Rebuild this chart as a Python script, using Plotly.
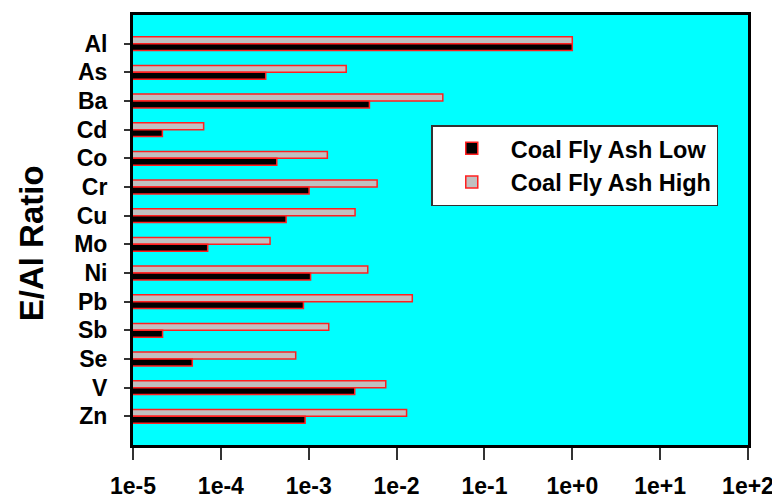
import numpy as np
import plotly.graph_objects as go

elements = ["Al", "As", "Ba", "Cd", "Co", "Cr", "Cu", "Mo", "Ni", "Pb", "Sb", "Se", "V", "Zn"]
low_vals = [1.0, 3.24e-4, 4.91e-3, 2.16e-5, 4.33e-4, 1.01e-3, 5.53e-4, 7.08e-5,
            1.05e-3, 8.71e-4, 2.17e-5, 4.73e-5, 3.34e-3, 9.10e-4]
high_vals = [1.0, 2.67e-3, 3.36e-2, 6.37e-5, 1.63e-3, 6.01e-3, 3.37e-3, 3.63e-4,
             4.70e-3, 1.51e-2, 1.69e-3, 7.11e-4, 7.53e-3, 1.30e-2]
x_tickvals = [1e-5, 1e-4, 1e-3, 1e-2, 1e-1, 1e0, 1e1, 1e2]
x_ticklabels = ["1e-5", "1e-4", "1e-3", "1e-2", "1e-1", "1e+0", "1e+1", "1e+2"]
y_title = "E/Al Ratio"
ref_value = 1.0

FONT = "Liberation Sans, Arial, sans-serif"

fig = go.Figure()
fig.add_trace(go.Bar(
    y=elements, x=high_vals, orientation="h", name="Coal Fly Ash High",
    marker=dict(color="#c0c0c0", line=dict(color="#ff2020", width=1.5)),
    legendrank=2,
))
fig.add_trace(go.Bar(
    y=elements, x=low_vals, orientation="h", name="Coal Fly Ash Low",
    marker=dict(color="#000000", line=dict(color="#ff2020", width=1.5)),
    legendrank=1,
))

fig.add_shape(type="line", xref="x", yref="paper",
              x0=np.log10(ref_value), x1=np.log10(ref_value), y0=0, y1=1,
              line=dict(color="black", width=1.5, dash="18px,10px"), layer="above")

fig.add_annotation(
    text=y_title, xref="paper", yref="paper", x=-0.166, y=0.469,
    xanchor="center", yanchor="middle", textangle=-90, showarrow=False,
    font=dict(size=33, family=FONT, color="black", weight="bold"),
)

fig.update_layout(
    width=772, height=491,
    margin=dict(l=125, r=32, t=7, b=54),
    paper_bgcolor="white",
    plot_bgcolor="#00ffff",
    barmode="group",
    bargap=0.52,
    bargroupgap=0,
    font=dict(family=FONT, color="black", weight="bold"),
    showlegend=True,
    legend=dict(
        x=0.485, y=0.744, xanchor="left", yanchor="top",
        bgcolor="white", bordercolor="#333333", borderwidth=1.5,
        font=dict(size=23.5, family=FONT, color="black", weight="bold"),
        itemwidth=68,
    ),
)

fig.update_xaxes(
    type="log", range=[-5, 2],
    tickvals=x_tickvals, ticktext=x_ticklabels,
    tickfont=dict(size=23, family=FONT, weight="bold"),
    ticks="outside", ticklen=12, tickwidth=1.5, tickcolor="#333333",
    ticklabelstandoff=6,
    showline=True, linewidth=3, linecolor="black", mirror=True,
    showgrid=False, zeroline=False, automargin=False,
)
fig.update_yaxes(
    type="category", range=[14.0, -1.0],
    tickmode="array", tickvals=elements, ticktext=elements,
    tickfont=dict(size=23, family=FONT, weight="bold"),
    ticks="outside", ticklen=6, tickwidth=1.5, tickcolor="#333333",
    ticklabelstandoff=12,
    showline=True, linewidth=3, linecolor="black", mirror=True,
    showgrid=False, zeroline=False, automargin=False,
)

fig.write_html("out.html")
